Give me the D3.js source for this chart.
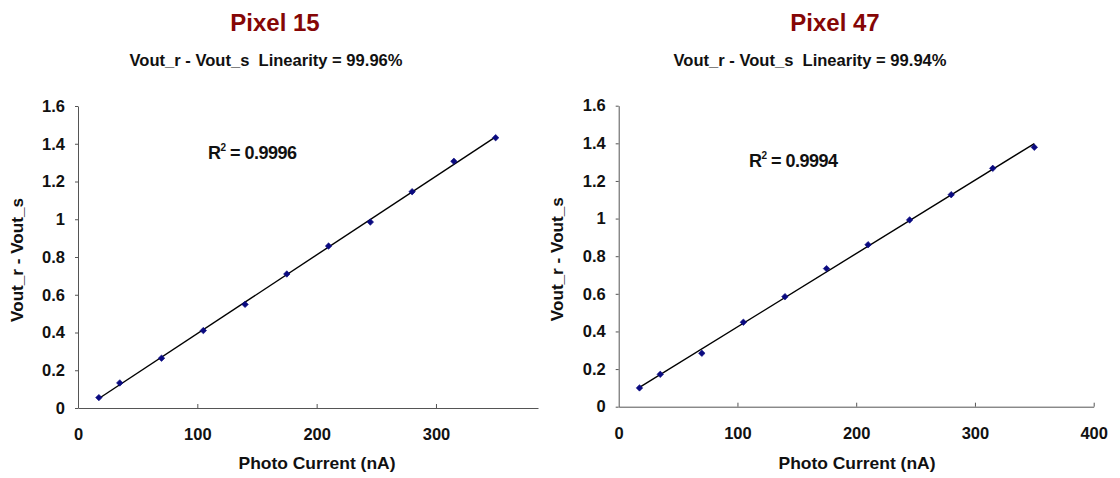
<!DOCTYPE html>
<html>
<head>
<meta charset="utf-8">
<script src="https://cdn.jsdelivr.net/npm/d3@7"></script>
<style>
  html, body { margin: 0; padding: 0; background: #fff; }
  svg { display: block; font-family: "Liberation Sans", Arial, sans-serif; }
</style>
</head>
<body>
<svg id="chart" width="1120" height="478"></svg>
<script>
// Photo current steps (nA)
const photoCurrent = [17.5, 35, 70, 105, 140, 175, 210, 245, 280, 315, 350];

// Vout_r - Vout_s readings for each pixel
const pixel15Values = [0.055, 0.133, 0.264, 0.410, 0.549, 0.710, 0.858, 0.985, 1.146, 1.307, 1.432];
const pixel47Values = [0.100, 0.172, 0.284, 0.449, 0.585, 0.734, 0.861, 0.993, 1.127, 1.267, 1.379];

const panelTitles = ["Pixel 15", "Pixel 47"];
const linearityText = ["99.96%", "99.94%"];
const rSquaredText = ["0.9996", "0.9994"];

const yTicks = [0, 0.2, 0.4, 0.6, 0.8, 1, 1.2, 1.4, 1.6];
const xTicksLeft = [0, 100, 200, 300];
const xTicksRight = [0, 100, 200, 300, 400];

const svg = d3.select("#chart");
const FONT = "Liberation Sans, Arial, sans-serif";

const panels = [
  { title: panelTitles[0], lin: linearityText[0], r2: rSquaredText[0], values: pixel15Values,
    xMax: 385.5, xTicks: xTicksLeft,
    left: 78, right: 538, top: 106, bottom: 408, cx: 275, subCx: 266,
    yTitleX: 23, xTitleCx: 317, r2x: 208, r2y: 159 },
  { title: panelTitles[1], lin: linearityText[1], r2: rSquaredText[1], values: pixel47Values,
    xMax: 400, xTicks: xTicksRight,
    left: 618.7, right: 1093.7, top: 105.7, bottom: 406.7, cx: 835, subCx: 810,
    yTitleX: 563, xTitleCx: 857, r2x: 749, r2y: 167 }
];

function fitLine(xs, ys) {
  const mx = d3.mean(xs), my = d3.mean(ys);
  let sxy = 0, sxx = 0;
  xs.forEach((x, i) => { sxy += (x - mx) * (ys[i] - my); sxx += (x - mx) * (x - mx); });
  const slope = sxy / sxx;
  return { slope, intercept: my - slope * mx };
}

panels.forEach(p => {
  const g = svg.append("g");
  const x = d3.scaleLinear().domain([0, p.xMax]).range([p.left, p.right]);
  const y = d3.scaleLinear().domain([0, 1.6]).range([p.bottom, p.top]);

  // Titles
  g.append("text").attr("x", p.cx).attr("y", 31).attr("text-anchor", "middle")
    .attr("font-size", 24).attr("font-weight", "bold").attr("fill", "#850606")
    .text(p.title);
  g.append("text").attr("x", p.subCx).attr("y", 66).attr("text-anchor", "middle")
    .attr("font-size", 16).attr("font-weight", "bold").attr("fill", "#111")
    .attr("xml:space", "preserve")
    .attr("textLength", 273).attr("lengthAdjust", "spacingAndGlyphs")
    .text("Vout_r - Vout_s  Linearity = " + p.lin);

  // Y axis
  const yAxis = g.append("g").attr("transform", `translate(${p.left},0)`)
    .call(d3.axisLeft(y).tickValues(yTicks).tickSize(3).tickSizeOuter(0).tickPadding(10)
      .tickFormat(d => d3.format("~g")(d)));
  yAxis.select(".domain").attr("stroke", "#555");
  yAxis.selectAll(".tick line").attr("stroke", "#555");
  yAxis.selectAll("text").attr("font-size", 16.5).attr("font-weight", "bold")
    .attr("fill", "#111").attr("font-family", FONT);

  // X axis (ticks point into the plot)
  const xAxis = g.append("g").attr("transform", `translate(0,${p.bottom})`)
    .call(d3.axisBottom(x).tickValues(p.xTicks).tickSizeInner(-4).tickSizeOuter(0));
  xAxis.select(".domain").attr("stroke", "#555");
  xAxis.selectAll(".tick line").attr("stroke", "#555");
  xAxis.selectAll(".tick").filter(d => d === 0).select("line").remove();
  xAxis.selectAll("text").attr("y", 32).attr("dy", null)
    .attr("font-size", 16.5).attr("font-weight", "bold").attr("fill", "#111")
    .attr("font-family", FONT);

  // Axis titles
  g.append("text").attr("x", p.xTitleCx).attr("y", 469).attr("text-anchor", "middle")
    .attr("font-size", 16.5).attr("font-weight", "bold").attr("fill", "#111")
    .attr("textLength", 157).attr("lengthAdjust", "spacingAndGlyphs")
    .text("Photo Current (nA)");
  g.append("text")
    .attr("transform", `translate(${p.yTitleX},${(p.top + p.bottom) / 2 + 3}) rotate(-90)`)
    .attr("text-anchor", "middle").attr("font-size", 16.5).attr("font-weight", "bold")
    .attr("fill", "#111").attr("textLength", 124).attr("lengthAdjust", "spacingAndGlyphs")
    .text("Vout_r - Vout_s");

  // Linear trend line
  const fit = fitLine(photoCurrent, p.values);
  const x0 = d3.min(photoCurrent), x1 = d3.max(photoCurrent);
  g.append("line")
    .attr("x1", x(x0)).attr("y1", y(fit.intercept + fit.slope * x0))
    .attr("x2", x(x1)).attr("y2", y(fit.intercept + fit.slope * x1))
    .attr("stroke", "#000").attr("stroke-width", 1.4);

  // Data markers (small diamonds)
  g.selectAll("path.pt").data(photoCurrent.map((c, i) => [c, p.values[i]]))
    .enter().append("path").attr("class", "pt")
    .attr("transform", d => `translate(${x(d[0])},${y(d[1])}) rotate(45)`)
    .attr("d", d3.symbol(d3.symbolSquare, 21))
    .attr("fill", "#0a0a80").attr("stroke", "#0a0a80").attr("stroke-width", 0.6);

  // R² annotation
  const r2 = g.append("text").attr("x", p.r2x).attr("y", p.r2y)
    .attr("font-size", 18).attr("font-weight", "bold").attr("fill", "#111")
    .attr("letter-spacing", -0.5);
  r2.append("tspan").text("R");
  r2.append("tspan").attr("dy", -8).attr("font-size", 10).text("2");
  r2.append("tspan").attr("dy", 8).text(" = " + p.r2);
});
</script>
</body>
</html>
